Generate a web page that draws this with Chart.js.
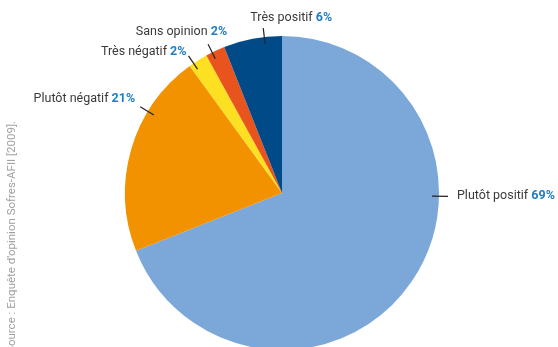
<!DOCTYPE html>
<html>
<head>
<meta charset="utf-8">
<script src="https://cdn.jsdelivr.net/npm/chart.js@4/dist/chart.umd.min.js"></script>
<style>
  html, body { margin: 0; padding: 0; background: #fff; overflow: hidden; width: 558px; height: 347px; }
  canvas { display: block; }
</style>
</head>
<body>
<canvas id="c" width="558" height="386"></canvas>
<script>
const categories = ["Plutôt positif", "Plutôt négatif", "Très négatif", "Sans opinion", "Très positif"];
const values = [69, 21, 2, 2, 6];
const percentLabels = ["69%", "21%", "2%", "2%", "6%"];
const sourceText = "Source : Enquête d'opinion Sofres-AFII [2009].";

const colors = ["#7ca7d9", "#f39200", "#fde021", "#e9531d", "#004b87"];

// label layout: where on slice (fraction), text alignment & offsets from leader outer end
const labelLayout = [
  { f: 0.367, align: "left",  dx: 9,   dy: 0 },
  { f: 0.70,  align: "right", dx: -5,  dy: -8 },
  { f: 0.24,  align: "right", dx: -2,  dy: -4 },
  { f: 0.33,  align: "right", dx: 19,  dy: -12 },
  { f: 0.70,  align: "left",  dx: -13, dy: -10 }
];

const FONT = "Roboto, 'Liberation Sans', sans-serif";
const FS = 12.5;

const labelPlugin = {
  id: "pieLabels",
  afterDraw(chart) {
    const ctx = chart.ctx;
    const meta = chart.getDatasetMeta(0);
    ctx.save();
    meta.data.forEach((arc, i) => {
      const p = arc.getProps(["x", "y", "startAngle", "endAngle", "outerRadius"], true);
      const L = labelLayout[i];
      const a = p.startAngle + L.f * (p.endAngle - p.startAngle);
      const r1 = p.outerRadius - 7, r2 = p.outerRadius + 9;
      const x1 = p.x + Math.cos(a) * r1, y1 = p.y + Math.sin(a) * r1;
      const x2 = p.x + Math.cos(a) * r2, y2 = p.y + Math.sin(a) * r2;
      ctx.strokeStyle = "#222";
      ctx.lineWidth = 1.2;
      ctx.beginPath();
      ctx.moveTo(x1, y1);
      ctx.lineTo(x2, y2);
      ctx.stroke();

      const name = categories[i] + " ";
      const pct = percentLabels[i];
      ctx.font = FS + "px " + FONT;
      const wName = ctx.measureText(name).width;
      ctx.font = "bold " + FS + "px " + FONT;
      const wPct = ctx.measureText(pct).width;
      const total = wName + wPct;
      let tx = x2 + L.dx;
      if (L.align === "right") tx -= total;
      const ty = y2 + L.dy;
      ctx.textBaseline = "middle";
      ctx.textAlign = "left";
      ctx.font = FS + "px " + FONT;
      ctx.fillStyle = "#3a3a3a";
      ctx.fillText(name, tx, ty);
      ctx.font = "bold " + FS + "px " + FONT;
      ctx.fillStyle = "#1f7dc4";
      ctx.fillText(pct, tx + wName, ty);
    });

    // source text, rotated
    ctx.translate(12, 121);
    ctx.rotate(-Math.PI / 2);
    ctx.font = "11.5px " + FONT;
    ctx.fillStyle = "#a0a0a0";
    ctx.textAlign = "right";
    ctx.textBaseline = "middle";
    ctx.fillText(sourceText, 0, 0);
    ctx.restore();
  }
};

new Chart(document.getElementById("c"), {
  type: "pie",
  data: {
    labels: categories,
    datasets: [{
      data: values,
      backgroundColor: colors,
      borderWidth: 0
    }]
  },
  options: {
    responsive: false,
    animation: false,
    devicePixelRatio: 1,
    layout: { padding: { left: 6, right: 0, top: 36, bottom: 36 } },
    plugins: {
      legend: { display: false },
      tooltip: { enabled: false }
    }
  },
  plugins: [labelPlugin]
});
</script>
</body>
</html>
